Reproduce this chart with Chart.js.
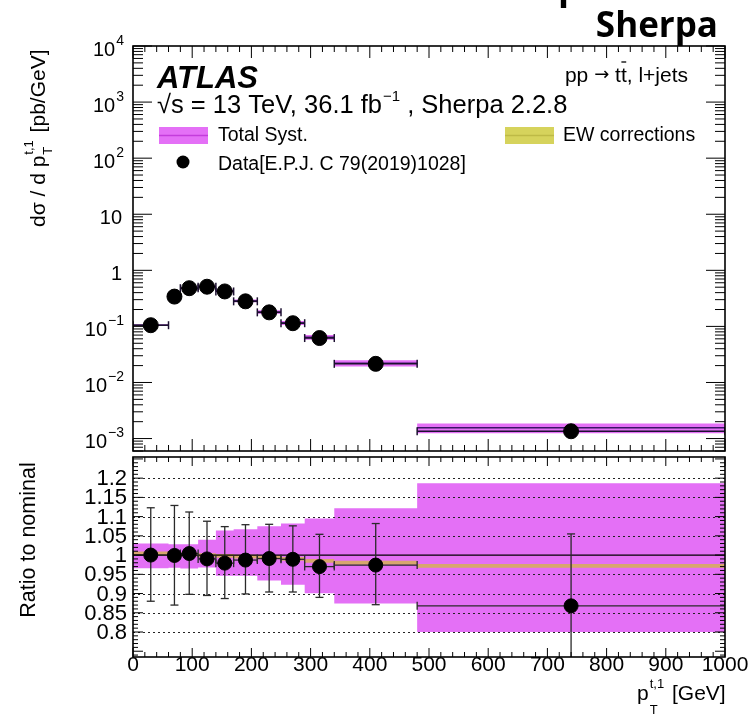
<!DOCTYPE html>
<html>
<head>
<meta charset="utf-8">
<script src="https://cdn.jsdelivr.net/npm/chart.js@4.4.1/dist/chart.umd.min.js"></script>
<style>
  html, body { margin: 0; padding: 0; background: #fff; }
  #wrap { position: relative; width: 751px; height: 720px; }
  #wrap canvas { position: absolute; left: 0; top: 0; }
</style>
</head>
<body>
<div id="wrap">
  <canvas id="topCanvas" width="751" height="720"></canvas>
  <canvas id="ratioCanvas" width="751" height="720"></canvas>
</div>
<script>
// pT(t,1) differential cross-section, Sherpa 2.2.8 vs ATLAS data

// ---------- Data ----------
const binEdges = [0, 60, 80, 110, 140, 170, 210, 250, 290, 340, 480, 1000];
const ptCenters = [30, 70, 95, 125, 155, 190, 230, 270, 315, 410, 740];
const xsecData = [0.105, 0.34, 0.48, 0.51, 0.42, 0.28, 0.178, 0.114, 0.062, 0.0215, 0.00135];
const xsecNominal = [0.105, 0.34, 0.478, 0.515, 0.429, 0.284, 0.18, 0.115, 0.064, 0.0221, 0.00156];
const ratioData = [1.0, 0.999, 1.004, 0.99, 0.979, 0.987, 0.991, 0.989, 0.97, 0.974, 0.868];
const ratioErrUp = [0.123, 0.13, 0.108, 0.098, 0.095, 0.092, 0.089, 0.087, 0.084, 0.108, 0.187];
const ratioErrDown = [0.12, 0.129, 0.106, 0.095, 0.092, 0.088, 0.087, 0.085, 0.08, 0.103, 0.19];
const systUp = [1.03, 1.028, 1.028, 1.04, 1.064, 1.067, 1.075, 1.082, 1.095, 1.122, 1.187];
const systDown = [0.966, 0.967, 0.965, 0.968, 0.946, 0.946, 0.934, 0.923, 0.901, 0.874, 0.8];
const ewCorr = [1.004, 1.003, 1.002, 1.0, 0.998, 0.996, 0.994, 0.99, 0.985, 0.98, 0.972];
const ewUnc = 0.005;

// tick labels
const xTickLabels = [0, 100, 200, 300, 400, 500, 600, 700, 800, 900, 1000];
const logTickExps = [4, 3, 2, 1, 0, -1, -2, -3];
const ratioTickLabels = ["1.2", "1.15", "1.1", "1.05", "1", "0.95", "0.9", "0.85", "0.8"];

// ---------- Layout / style ----------
const W = 751, H = 720;
const TOP_AREA = { left: 133, right: 725, top: 46, bottom: 451 };
const RATIO_AREA = { left: 133, right: 725, top: 457, bottom: 657 };
const MAGENTA = "rgb(228,112,246)";
const MAGENTA_LINE = "rgb(196,60,220)";
const EW_LEGEND = "rgb(214,211,92)";
const EW_RATIO = "rgb(216,166,110)";
const FONT = '"Liberation Sans", Arial, Helvetica, sans-serif';

// ---------- Helpers ----------
function padFor(a) {
  return { left: a.left, right: W - a.right, top: a.top, bottom: H - a.bottom };
}

// histogram-style step points: one point per bin edge, last edge repeats last bin
function steps(vals) {
  return binEdges.map((e, i) => ({ x: e, y: vals[Math.min(i, vals.length - 1)] }));
}

function setFont(ctx, size, o = {}) {
  ctx.font = `${o.italic ? "italic " : ""}${o.bold ? "bold " : ""}${size}px ${o.family || FONT}`;
}

function txt(ctx, s, x, y, size, o = {}) {
  setFont(ctx, size, o);
  ctx.fillStyle = o.color || "#000";
  ctx.textAlign = o.align || "left";
  ctx.textBaseline = o.base || "alphabetic";
  ctx.fillText(s, x, y);
  return ctx.measureText(s).width;
}

function textWidth(ctx, s, size, o = {}) {
  setFont(ctx, size, o);
  return ctx.measureText(s).width;
}

function seg(ctx, x0, y0, x1, y1) {
  ctx.beginPath();
  ctx.moveTo(x0, y0);
  ctx.lineTo(x1, y1);
  ctx.stroke();
}

function xTicks(ctx, sx, a, vals, len) {
  vals.forEach(v => {
    const p = sx.getPixelForValue(v);
    seg(ctx, p, a.bottom, p, a.bottom - len);
    seg(ctx, p, a.top, p, a.top + len);
  });
}

function yTicks(ctx, sy, a, vals, len) {
  vals.forEach(v => {
    const p = sy.getPixelForValue(v);
    if (p < a.top - 0.5 || p > a.bottom + 0.5) return;
    seg(ctx, a.left, p, a.left + len, p);
    seg(ctx, a.right, p, a.right - len, p);
  });
}

function clipArea(ctx, a) {
  ctx.beginPath();
  ctx.rect(a.left, a.top, a.right - a.left, a.bottom - a.top);
  ctx.clip();
}

// minor tick positions
const xMinor = [];
for (let v = 0; v <= 1000; v += 20) if (v % 100 !== 0) xMinor.push(v);
const logMinor = [];
for (let e = -4; e <= 3; e++) for (let k = 2; k <= 9; k++) logMinor.push(k * Math.pow(10, e));
const ratioMinor = [];
for (let i = 73; i <= 126; i++) if (i % 5 !== 0) ratioMinor.push(i / 100);
const ratioMajor = [];
for (let i = 75; i <= 125; i += 5) ratioMajor.push(i / 100);

const baseOptions = area => ({
  responsive: false,
  animation: false,
  devicePixelRatio: 1,
  events: [],
  layout: { padding: padFor(area) },
  plugins: { legend: { display: false }, tooltip: { enabled: false } },
});

const bandDataset = (label, vals, fill, color, order) => ({
  label,
  data: steps(vals),
  stepped: true,
  pointRadius: 0,
  borderWidth: 0,
  borderColor: "rgba(0,0,0,0)",
  backgroundColor: color || "rgba(0,0,0,0)",
  fill,
  order,
});

// ---------- Upper panel ----------
const topDecor = {
  id: "topDecor",
  beforeDatasetDraw(chart, args) {
    if (chart.data.datasets[args.index].label !== "Data") return;
    const { ctx, chartArea: a, scales: { x, y } } = chart;
    ctx.save();
    clipArea(ctx, a);
    for (let i = 0; i < xsecData.length; i++) {
      const x0 = x.getPixelForValue(binEdges[i]);
      const x1 = x.getPixelForValue(binEdges[i + 1]);
      // nominal prediction
      const yn = y.getPixelForValue(xsecNominal[i]);
      ctx.strokeStyle = "#3a1466";
      ctx.lineWidth = 1.5;
      seg(ctx, x0, yn, x1, yn);
      // data bin width with caps
      const yd = y.getPixelForValue(xsecData[i]);
      ctx.strokeStyle = "#1c1030";
      ctx.lineWidth = 1.5;
      seg(ctx, x0, yd, x1, yd);
      seg(ctx, x0, yd - 4, x0, yd + 4);
      seg(ctx, x1, yd - 4, x1, yd + 4);
    }
    ctx.restore();
  },
  afterDraw(chart) {
    const { ctx, chartArea: a, scales: { x, y } } = chart;
    ctx.save();
    ctx.strokeStyle = "#000";
    ctx.lineWidth = 1;
    xTicks(ctx, x, a, xTickLabels, 12);
    xTicks(ctx, x, a, xMinor, 6);
    yTicks(ctx, y, a, logTickExps.map(e => Math.pow(10, e)), 19);
    yTicks(ctx, y, a, logMinor, 10);
    ctx.lineWidth = 1.6;
    ctx.strokeRect(a.left, a.top, a.right - a.left, a.bottom - a.top);

    // y tick labels
    logTickExps.forEach(e => {
      const p = y.getPixelForValue(Math.pow(10, e));
      const right = 124;
      if (e === 0 || e === 1) {
        txt(ctx, e === 0 ? "1" : "10", right - 2, p + 4, 20, { align: "right", base: "middle" });
      } else {
        const sup = e < 0 ? "\u2212" + Math.abs(e) : String(e);
        const ws = textWidth(ctx, sup, 14);
        const wm = textWidth(ctx, "10", 20);
        txt(ctx, "10", right - ws - wm - 1, p + 4, 20, { base: "middle" });
        txt(ctx, sup, right - ws, p - 5, 14, { base: "middle" });
      }
    });

    // y axis title (rotated)
    ctx.save();
    ctx.translate(45, 227);
    ctx.rotate(-Math.PI / 2);
    let cx = txt(ctx, "d\u03c3 / d p", 0, 0, 21);
    txt(ctx, "T", cx + 1, 7, 13);
    const wsup = txt(ctx, "t,1", cx + 1, -12, 13);
    cx += wsup + 3;
    txt(ctx, " [pb/GeV]", cx, 0, 21);
    ctx.restore();

    // header texts
    txt(ctx, "p", 558, -1, 36, { bold: true, family: '"Open Sans", "DejaVu Sans", sans-serif' });
    txt(ctx, "Sherpa", 718, 37, 35, { bold: true, align: "right", family: '"Open Sans", "DejaVu Sans", sans-serif' });
    txt(ctx, "ATLAS", 157, 88, 31, { bold: true, italic: true });

    let sx = 157;
    sx += txt(ctx, "\u221As = 13 TeV, 36.1 fb", sx, 113, 25.5);
    const wm1 = txt(ctx, "\u22121", sx + 1, 101, 15);
    sx += wm1 + 1;
    txt(ctx, " , Sherpa 2.2.8", sx, 113, 25.5);

    // process label with tbar
    const pSize = 21;
    const arrowFont = { family: '"DejaVu Sans", sans-serif' };
    const p1 = "pp ", pA = "\u2192", p1b = " t", p2 = "t", p3 = ", l+jets";
    const total = textWidth(ctx, p1, pSize) + textWidth(ctx, pA, 18, arrowFont) +
      textWidth(ctx, p1b, pSize) + textWidth(ctx, p2, pSize) + textWidth(ctx, p3, pSize);
    let px = 688 - total;
    px += txt(ctx, p1, px, 82, pSize);
    px += txt(ctx, pA, px, 80, 18, arrowFont);
    px += txt(ctx, p1b, px, 82, pSize);
    const wt = txt(ctx, p2, px, 82, pSize);
    ctx.strokeStyle = "#000";
    ctx.lineWidth = 1.3;
    seg(ctx, px + 0.5, 62, px + wt - 0.5, 62);
    px += wt;
    txt(ctx, p3, px, 82, pSize);

    // legend
    ctx.fillStyle = MAGENTA;
    ctx.fillRect(159, 127, 49, 17);
    ctx.strokeStyle = MAGENTA_LINE;
    ctx.lineWidth = 1.5;
    seg(ctx, 159, 135.5, 208, 135.5);
    txt(ctx, "Total Syst.", 218, 141, 19.5);

    ctx.fillStyle = "#000";
    ctx.beginPath();
    ctx.arc(183, 162, 6.5, 0, Math.PI * 2);
    ctx.fill();
    txt(ctx, "Data[E.P.J. C 79(2019)1028]", 218, 170, 19.5);

    ctx.fillStyle = EW_LEGEND;
    ctx.fillRect(505, 127, 49, 17);
    ctx.strokeStyle = "rgb(190,186,70)";
    seg(ctx, 505, 135.5, 554, 135.5);
    txt(ctx, "EW corrections", 563, 141, 19.5);
    ctx.restore();
  },
};

new Chart(document.getElementById("topCanvas"), {
  type: "line",
  data: {
    datasets: [
      {
        label: "Data",
        data: ptCenters.map((x, i) => ({ x, y: xsecData[i] })),
        showLine: false,
        pointRadius: 7.5,
        pointBackgroundColor: "#000",
        pointBorderColor: "#000",
        pointBorderWidth: 1,
        order: 0,
      },
      bandDataset("systHi", xsecNominal.map((v, i) => v * systUp[i]), false, null, 2),
      bandDataset("systLo", xsecNominal.map((v, i) => v * systDown[i]), "-1", MAGENTA, 1),
    ],
  },
  options: {
    ...baseOptions(TOP_AREA),
    scales: {
      x: { type: "linear", min: 0, max: 1000, display: false },
      y: { type: "logarithmic", min: Math.pow(10, -3.2), max: 1e4, display: false },
    },
  },
  plugins: [topDecor],
});

// ---------- Ratio panel ----------
const ratioDecor = {
  id: "ratioDecor",
  beforeDatasetDraw(chart, args) {
    if (chart.data.datasets[args.index].label !== "Data") return;
    const { ctx, chartArea: a, scales: { x, y } } = chart;
    ctx.save();
    clipArea(ctx, a);
    // dotted grid
    ctx.strokeStyle = "#222";
    ctx.lineWidth = 1;
    ctx.setLineDash([2, 3]);
    ratioTickLabels.forEach(t => {
      const v = parseFloat(t);
      if (v === 1) return;
      const p = Math.round(y.getPixelForValue(v)) + 0.5;
      seg(ctx, a.left, p, a.right, p);
    });
    ctx.setLineDash([]);
    // unity line
    ctx.strokeStyle = "#000";
    ctx.lineWidth = 1.3;
    const p1 = y.getPixelForValue(1);
    seg(ctx, a.left, p1, a.right, p1);
    // data error bars
    ctx.strokeStyle = "#2a2a2a";
    ctx.lineWidth = 1.3;
    for (let i = 0; i < ratioData.length; i++) {
      const xc = x.getPixelForValue(ptCenters[i]);
      const x0 = x.getPixelForValue(binEdges[i]);
      const x1 = x.getPixelForValue(binEdges[i + 1]);
      const yc = y.getPixelForValue(ratioData[i]);
      const yu = y.getPixelForValue(ratioData[i] + ratioErrUp[i]);
      const yl = y.getPixelForValue(ratioData[i] - ratioErrDown[i]);
      seg(ctx, xc, yu, xc, yl);
      seg(ctx, xc - 4, yu, xc + 4, yu);
      seg(ctx, xc - 4, yl, xc + 4, yl);
      seg(ctx, x0, yc, x1, yc);
      seg(ctx, x0, yc - 4, x0, yc + 4);
      seg(ctx, x1, yc - 4, x1, yc + 4);
    }
    ctx.restore();
  },
  afterDraw(chart) {
    const { ctx, chartArea: a, scales: { x, y } } = chart;
    ctx.save();
    ctx.strokeStyle = "#000";
    ctx.lineWidth = 1;
    xTicks(ctx, x, a, xTickLabels, 9);
    xTicks(ctx, x, a, xMinor, 5);
    yTicks(ctx, y, a, ratioMajor, 10);
    yTicks(ctx, y, a, ratioMinor, 5);
    ctx.lineWidth = 1.6;
    ctx.strokeRect(a.left, a.top, a.right - a.left, a.bottom - a.top);

    ratioTickLabels.forEach(t => {
      const p = y.getPixelForValue(parseFloat(t));
      txt(ctx, t, 127, p + 1, 22, { align: "right", base: "middle" });
    });
    xTickLabels.forEach(v => {
      txt(ctx, String(v), x.getPixelForValue(v), 671, 21, { align: "center" });
    });

    // x axis title
    let cx = 637;
    cx += txt(ctx, "p", cx, 700, 21);
    txt(ctx, "T", cx + 1, 714, 13);
    const ws = txt(ctx, "t,1", cx + 1, 688, 13);
    cx += ws + 3;
    txt(ctx, " [GeV]", cx, 700, 21);

    // y axis title
    ctx.save();
    ctx.translate(35, 540);
    ctx.rotate(-Math.PI / 2);
    txt(ctx, "Ratio to nominal", 0, 0, 21.5, { align: "center" });
    ctx.restore();
    ctx.restore();
  },
};

new Chart(document.getElementById("ratioCanvas"), {
  type: "line",
  data: {
    datasets: [
      {
        label: "Data",
        data: ptCenters.map((x, i) => ({ x, y: ratioData[i] })),
        showLine: false,
        pointRadius: 7,
        pointBackgroundColor: "#000",
        pointBorderColor: "#000",
        pointBorderWidth: 1,
        order: 0,
      },
      bandDataset("systHi", systUp, false, null, 4),
      bandDataset("systLo", systDown, "-1", MAGENTA, 3),
      bandDataset("ewHi", ewCorr.map(v => v + ewUnc), false, null, 2),
      bandDataset("ewLo", ewCorr.map(v => v - ewUnc), "-1", EW_RATIO, 1),
    ],
  },
  options: {
    ...baseOptions(RATIO_AREA),
    scales: {
      x: { type: "linear", min: 0, max: 1000, display: false },
      y: { type: "linear", min: 0.735, max: 1.255, display: false },
    },
  },
  plugins: [ratioDecor],
});
</script>
</body>
</html>
